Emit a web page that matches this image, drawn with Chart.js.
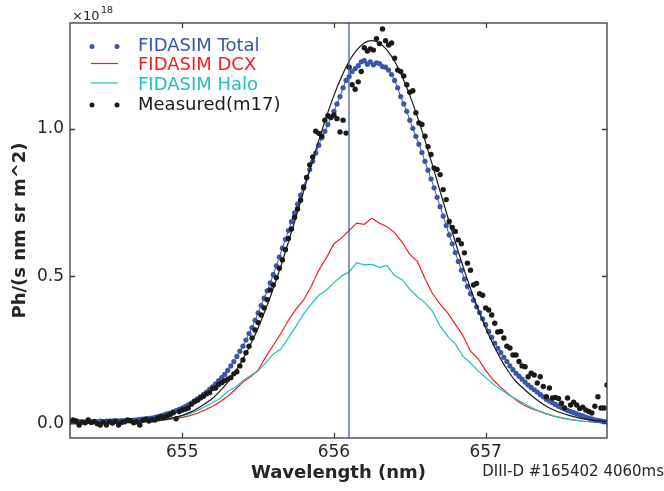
<!DOCTYPE html>
<html>
<head>
<meta charset="utf-8">
<script src="https://cdn.jsdelivr.net/npm/chart.js@4.4.1/dist/chart.umd.min.js"></script>
<style>
  html, body { margin: 0; padding: 0; background: #fff; }
  canvas { display: block; }
</style>
</head>
<body>
<canvas id="chart" width="664" height="491"></canvas>
<script>
// wavelength grid of the spectrometer pixels (nm)
const dotWl = [
  654.26, 654.28, 654.30, 654.32, 654.34, 654.36, 654.38, 654.40, 654.42, 654.44,
  654.46, 654.48, 654.50, 654.52, 654.54, 654.56, 654.58, 654.60, 654.62, 654.64,
  654.66, 654.68, 654.70, 654.72, 654.74, 654.76, 654.78, 654.80, 654.82, 654.84,
  654.86, 654.88, 654.90, 654.92, 654.94, 654.96, 654.98, 655.00, 655.02, 655.04,
  655.06, 655.08, 655.10, 655.12, 655.14, 655.16, 655.18, 655.20, 655.22, 655.24,
  655.26, 655.28, 655.30, 655.32, 655.34, 655.36, 655.38, 655.40, 655.42, 655.44,
  655.46, 655.48, 655.50, 655.52, 655.54, 655.56, 655.58, 655.60, 655.62, 655.64,
  655.66, 655.68, 655.70, 655.72, 655.74, 655.76, 655.78, 655.80, 655.82, 655.84,
  655.86, 655.88, 655.90, 655.92, 655.94, 655.96, 655.98, 656.00, 656.02, 656.04,
  656.06, 656.08, 656.10, 656.12, 656.14, 656.16, 656.18, 656.20, 656.22, 656.24,
  656.26, 656.28, 656.30, 656.32, 656.34, 656.36, 656.38, 656.40, 656.42, 656.44,
  656.46, 656.48, 656.50, 656.52, 656.54, 656.56, 656.58, 656.60, 656.62, 656.64,
  656.66, 656.68, 656.70, 656.72, 656.74, 656.76, 656.78, 656.80, 656.82, 656.84,
  656.86, 656.88, 656.90, 656.92, 656.94, 656.96, 656.98, 657.00, 657.02, 657.04,
  657.06, 657.08, 657.10, 657.12, 657.14, 657.16, 657.18, 657.20, 657.22, 657.24,
  657.26, 657.28, 657.30, 657.32, 657.34, 657.36, 657.38, 657.40, 657.42, 657.44,
  657.46, 657.48, 657.50, 657.52, 657.54, 657.56, 657.58, 657.60, 657.62, 657.64,
  657.66, 657.68, 657.70, 657.72, 657.74, 657.76, 657.78, 657.80
];

// FIDASIM total (x1e18)
const totalVals = [
  0.004, 0.005, 0.004, 0.006, 0.005, 0.005, 0.006, 0.005, 0.006, 0.006,
  0.007, 0.006, 0.007, 0.007, 0.008, 0.008, 0.008, 0.009, 0.009, 0.010,
  0.010, 0.011, 0.012, 0.013, 0.014, 0.015, 0.017, 0.018, 0.020, 0.023,
  0.025, 0.029, 0.032, 0.035, 0.039, 0.043, 0.047, 0.052, 0.057, 0.063,
  0.069, 0.076, 0.083, 0.090, 0.098, 0.106, 0.115, 0.124, 0.134, 0.145,
  0.155, 0.166, 0.180, 0.195, 0.210, 0.227, 0.245, 0.262, 0.283, 0.305,
  0.325, 0.350, 0.375, 0.400, 0.425, 0.450, 0.477, 0.505, 0.535, 0.565,
  0.595, 0.625, 0.655, 0.685, 0.715, 0.745, 0.775, 0.805, 0.835, 0.862,
  0.890, 0.918, 0.945, 0.970, 0.992, 1.015, 1.038, 1.060, 1.085, 1.110,
  1.140, 1.165, 1.178, 1.195, 1.205, 1.215, 1.228, 1.232, 1.220, 1.228,
  1.218, 1.225, 1.222, 1.212, 1.210, 1.200, 1.185, 1.165, 1.140, 1.110,
  1.085, 1.060, 1.030, 1.002, 0.975, 0.948, 0.920, 0.890, 0.860, 0.830,
  0.800, 0.768, 0.736, 0.704, 0.672, 0.640, 0.610, 0.580, 0.550, 0.520,
  0.490, 0.465, 0.440, 0.418, 0.396, 0.376, 0.355, 0.335, 0.312, 0.292,
  0.272, 0.255, 0.240, 0.224, 0.210, 0.195, 0.182, 0.170, 0.160, 0.150,
  0.140, 0.130, 0.122, 0.114, 0.106, 0.098, 0.090, 0.082, 0.076, 0.070,
  0.064, 0.058, 0.053, 0.049, 0.044, 0.040, 0.036, 0.032, 0.028, 0.025,
  0.021, 0.018, 0.015, 0.012, 0.010, 0.008, 0.006, 0.005
];

// measured spectrum, channel m17 (x1e18)
const measVals = [
  0.005, 0.011, 0.008, -0.006, 0.004, 0.002, 0.011, 0.003, 0.005, -0.002,
  -0.006, 0.004, -0.006, 0.005, 0.001, 0.007, -0.006, 0.003, 0.005, 0.011,
  0.009, 0.002, 0.005, -0.006, 0.010, 0.014, 0.008, 0.012, 0.011, 0.018,
  0.022, 0.020, 0.025, 0.030, 0.036, 0.015, 0.040, 0.045, 0.048, 0.052,
  0.065, 0.073, 0.078, 0.086, 0.092, 0.100, 0.104, 0.118, 0.120, 0.132,
  0.138, 0.145, 0.150, 0.155, 0.168, 0.175, 0.195, 0.215, 0.240, 0.262,
  0.290, 0.317, 0.342, 0.368, 0.392, 0.420, 0.453, 0.470, 0.495, 0.527,
  0.555, 0.590, 0.628, 0.660, 0.700, 0.728, 0.758, 0.800, 0.835, 0.878,
  0.905, 0.992, 0.985, 0.975, 1.030, 1.045, 1.040, 1.048, 1.035, 0.990,
  1.030, 0.986, 1.210, 1.150, 1.135, 1.160, 1.195, 1.276, 1.265, 1.272,
  1.268, 1.307, 1.290, 1.340, 1.300, 1.285, 1.292, 1.240, 1.200, 1.195,
  1.180, 1.150, 1.125, 1.130, 1.055, 1.020, 1.015, 0.975, 0.940, 0.913,
  0.867, 0.862, 0.845, 0.794, 0.760, 0.686, 0.665, 0.652, 0.623, 0.610,
  0.579, 0.544, 0.520, 0.470, 0.475, 0.440, 0.435, 0.392, 0.385, 0.368,
  0.340, 0.310, 0.312, 0.290, 0.262, 0.256, 0.232, 0.232, 0.210, 0.195,
  0.192, 0.158, 0.170, 0.164, 0.137, 0.158, 0.125, 0.090, 0.120, 0.086,
  0.088, 0.084, 0.068, 0.052, 0.086, 0.062, 0.072, 0.062, 0.050, 0.055,
  0.045, 0.040, 0.035, 0.058, 0.090, 0.052, 0.052, 0.130
];

// coarser grid for the simulated components and the fit (nm)
const lineWl = [
  654.25, 654.30, 654.35, 654.40, 654.45, 654.50, 654.55, 654.60, 654.65, 654.70,
  654.75, 654.80, 654.85, 654.90, 654.95, 655.00, 655.05, 655.10, 655.15, 655.20,
  655.25, 655.30, 655.35, 655.40, 655.45, 655.50, 655.55, 655.60, 655.65, 655.70,
  655.75, 655.80, 655.85, 655.90, 655.95, 656.00, 656.05, 656.10, 656.15, 656.20,
  656.25, 656.30, 656.35, 656.40, 656.45, 656.50, 656.55, 656.60, 656.65, 656.70,
  656.75, 656.80, 656.85, 656.90, 656.95, 657.00, 657.05, 657.10, 657.15, 657.20,
  657.25, 657.30, 657.35, 657.40, 657.45, 657.50, 657.55, 657.60, 657.65, 657.70,
  657.75, 657.80
];

const dcxVals = [
  0.002, 0.002, 0.002, 0.003, 0.003, 0.003, 0.004, 0.004, 0.005, 0.005,
  0.006, 0.007, 0.009, 0.012, 0.016, 0.020, 0.026, 0.034, 0.045, 0.058,
  0.073, 0.092, 0.115, 0.140, 0.158, 0.180, 0.225, 0.265, 0.305, 0.350,
  0.388, 0.419, 0.465, 0.520, 0.562, 0.610, 0.630, 0.655, 0.680, 0.676,
  0.697, 0.680, 0.668, 0.648, 0.615, 0.574, 0.550, 0.492, 0.440, 0.405,
  0.375, 0.336, 0.298, 0.245, 0.220, 0.180, 0.147, 0.122, 0.100, 0.079,
  0.062, 0.050, 0.041, 0.032, 0.024, 0.018, 0.013, 0.010, 0.007, 0.005,
  0.004, 0.004
];

const haloVals = [
  0.002, 0.002, 0.003, 0.003, 0.003, 0.004, 0.004, 0.005, 0.006, 0.006,
  0.007, 0.009, 0.011, 0.014, 0.019, 0.025, 0.033, 0.044, 0.056, 0.070,
  0.085, 0.108, 0.122, 0.145, 0.162, 0.178, 0.205, 0.235, 0.252, 0.290,
  0.330, 0.372, 0.405, 0.435, 0.452, 0.478, 0.500, 0.514, 0.546, 0.538,
  0.540, 0.530, 0.536, 0.502, 0.488, 0.455, 0.430, 0.410, 0.380, 0.330,
  0.295, 0.270, 0.228, 0.205, 0.178, 0.155, 0.133, 0.115, 0.098, 0.082,
  0.068, 0.054, 0.042, 0.033, 0.025, 0.019, 0.014, 0.010, 0.007, 0.005,
  0.004, 0.003
];

const fitVals = [
  0.000, 0.000, 0.000, 0.000, 0.000, 0.001, 0.001, 0.002, 0.002, 0.003,
  0.005, 0.007, 0.010, 0.014, 0.020, 0.027, 0.037, 0.050, 0.066, 0.085,
  0.110, 0.140, 0.176, 0.218, 0.268, 0.324, 0.388, 0.458, 0.534, 0.616,
  0.701, 0.788, 0.876, 0.961, 1.041, 1.114, 1.177, 1.230, 1.268, 1.292,
  1.300, 1.292, 1.268, 1.230, 1.177, 1.114, 1.041, 0.961, 0.876, 0.788,
  0.701, 0.616, 0.534, 0.458, 0.388, 0.324, 0.268, 0.218, 0.176, 0.142,
  0.118, 0.095, 0.075, 0.058, 0.045, 0.035, 0.027, 0.020, 0.015, 0.011,
  0.008, 0.006
];

const xTicks = [655, 656, 657];
const yTicks = [0.0, 0.5, 1.0];
const refLine = 656.1;

const FONT = "'DejaVu Sans', sans-serif";
const BLUE = "#3b56a6";
const RED = "#ee2222";
const CYAN = "#25bdbd";
const BLACK = "#1a1a1a";
const INK = "#262626";

const pts = (xs, ys) => xs.map((x, i) => ({ x: x, y: ys[i] }));

// frame with inward ticks, reference line, legend and the extra texts
const decorations = {
  id: "decorations",
  afterDatasetsDraw(chart) {
    const { ctx, chartArea: a, scales: { x, y } } = chart;
    ctx.save();

    const rx = Math.round(x.getPixelForValue(refLine));
    ctx.strokeStyle = "#3f5cb8";
    ctx.lineWidth = 1.3;
    ctx.beginPath();
    ctx.moveTo(rx, a.top);
    ctx.lineTo(rx, a.bottom);
    ctx.stroke();

    ctx.strokeStyle = "#3a3a3a";
    ctx.lineWidth = 1.3;
    ctx.strokeRect(a.left, a.top, a.right - a.left, a.bottom - a.top);
    ctx.beginPath();
    xTicks.forEach((v) => {
      const px = Math.round(x.getPixelForValue(v)) + 0.5;
      ctx.moveTo(px, a.bottom); ctx.lineTo(px, a.bottom - 5);
      ctx.moveTo(px, a.top); ctx.lineTo(px, a.top + 5);
    });
    yTicks.forEach((v) => {
      const py = Math.round(y.getPixelForValue(v)) + 0.5;
      ctx.moveTo(a.left, py); ctx.lineTo(a.left + 5, py);
      ctx.moveTo(a.right, py); ctx.lineTo(a.right - 5, py);
    });
    ctx.stroke();

    // legend
    const rows = [
      { ds: chart.data.datasets[0], y: 46.5, kind: "dots" },
      { ds: chart.data.datasets[2], y: 65.5, kind: "line" },
      { ds: chart.data.datasets[3], y: 85, kind: "line" },
      { ds: chart.data.datasets[4], y: 105, kind: "dots" }
    ];
    ctx.font = "18px " + FONT;
    ctx.textBaseline = "middle";
    ctx.textAlign = "left";
    rows.forEach((r) => {
      const col = r.kind === "dots" ? r.ds.pointBackgroundColor : r.ds.borderColor;
      if (r.kind === "dots") {
        ctx.fillStyle = col;
        [92, 117].forEach((cx) => {
          ctx.beginPath();
          ctx.arc(cx, r.y, 2.5, 0, Math.PI * 2);
          ctx.fill();
        });
      } else {
        ctx.strokeStyle = col;
        ctx.lineWidth = 1.2;
        ctx.beginPath();
        ctx.moveTo(91, r.y - 2);
        ctx.lineTo(118, r.y - 2);
        ctx.stroke();
      }
      ctx.fillStyle = col;
      ctx.fillText(r.ds.label, 138, r.y);
    });

    // exponent label
    ctx.fillStyle = INK;
    ctx.textBaseline = "alphabetic";
    ctx.font = "13px " + FONT;
    ctx.fillText("\u00d710", 72, 20);
    ctx.font = "9.5px " + FONT;
    ctx.fillText("18", 101, 13);

    // shot label
    ctx.font = "15px " + FONT;
    ctx.textAlign = "right";
    ctx.textBaseline = "middle";
    ctx.fillText("DIII-D #165402 4060ms", 664, 472);

    ctx.restore();
  }
};

new Chart(document.getElementById("chart"), {
  type: "scatter",
  data: {
    datasets: [
      { label: "FIDASIM Total", data: pts(dotWl, totalVals), showLine: false,
        pointRadius: 2.6, pointBorderWidth: 0, pointBackgroundColor: BLUE, borderColor: BLUE, order: 3 },
      { label: "", data: pts(dotWl, totalVals), showLine: true,
        borderColor: BLUE, borderWidth: 1, pointRadius: 0, order: 2 },
      { label: "FIDASIM DCX", data: pts(lineWl, dcxVals), showLine: true,
        borderColor: RED, borderWidth: 1.2, pointRadius: 0, order: 5 },
      { label: "FIDASIM Halo", data: pts(lineWl, haloVals), showLine: true,
        borderColor: CYAN, borderWidth: 1.2, pointRadius: 0, order: 4 },
      { label: "Measured(m17)", data: pts(dotWl, measVals), showLine: false,
        pointRadius: 2.7, pointBorderWidth: 0, pointBackgroundColor: BLACK, borderColor: BLACK, order: 1 },
      { label: "", data: pts(lineWl, fitVals), showLine: true, cubicInterpolationMode: "monotone",
        borderColor: BLACK, borderWidth: 1.2, pointRadius: 0, order: 0 }
    ]
  },
  options: {
    responsive: false,
    animation: false,
    events: [],
    layout: { padding: { left: 0, top: 23, right: 57, bottom: 0 } },
    plugins: { legend: { display: false }, tooltip: { enabled: false } },
    scales: {
      x: {
        type: "linear",
        min: 654.26,
        max: 657.80,
        afterBuildTicks: (s) => { s.ticks = xTicks.map((v) => ({ value: v })); },
        afterFit: (s) => { s.height = 53; },
        grid: { display: false, drawTicks: false },
        border: { display: false },
        ticks: { font: { family: FONT, size: 17 }, color: INK, padding: 4,
                 callback: (v) => String(v) },
        title: { display: true, text: "Wavelength (nm)", color: INK,
                 font: { family: FONT, size: 18, weight: "bold" }, padding: { top: 0, bottom: 7 } }
      },
      y: {
        min: -0.05,
        max: 1.36,
        afterBuildTicks: (s) => { s.ticks = yTicks.map((v) => ({ value: v })); },
        afterFit: (s) => { s.width = 70; },
        grid: { display: false, drawTicks: false },
        border: { display: false },
        ticks: { font: { family: FONT, size: 17 }, color: INK, padding: 6,
                 callback: (v) => v.toFixed(1) },
        title: { display: true, text: "Ph/(s nm sr m^2)", color: INK,
                 font: { family: FONT, size: 18, weight: "bold" }, padding: { top: 10, bottom: 0 } }
      }
    }
  },
  plugins: [decorations]
});
</script>
</body>
</html>
